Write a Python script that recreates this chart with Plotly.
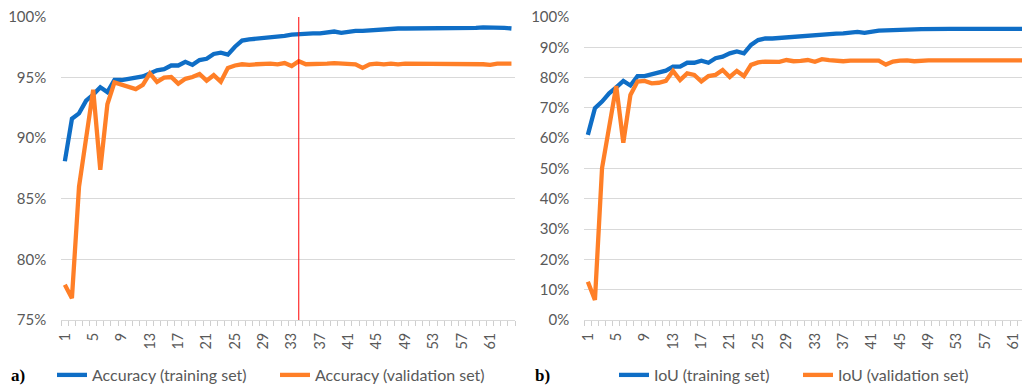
import plotly.graph_objects as go

epochs = list(range(1, 65))
tick_vals = list(range(1, 65, 4))
tick_text = [str(v) for v in tick_vals]

acc_train = [88.1, 91.6, 92.05, 93.1, 93.6, 94.2, 93.8, 94.8, 94.8, 94.9,
             95.0, 95.1, 95.35, 95.6, 95.7, 96.0, 96.0, 96.3, 96.05, 96.45,
             96.55, 96.95, 97.05, 96.9, 97.55, 98.05, 98.15, 98.2, 98.25, 98.3,
             98.35, 98.45, 98.55, 98.6, 98.6, 98.65, 98.65, 98.7, 98.8, 98.7,
             98.8, 98.85, 98.85, 98.9, 98.95, 99.0, 99.05, 99.05, 99.05, 99.05,
             99.05, 99.05, 99.05, 99.05, 99.05, 99.05, 99.05, 99.05, 99.1, 99.15,
             99.15, 99.15, 99.1, 99.05]
acc_val = [77.9, 76.8, 86.0, 90.0, 94.0, 87.4, 92.8, 94.6, 94.4, 94.2,
           94.05, 94.4, 95.35, 94.65, 95.0, 95.05, 94.5, 94.9, 95.05, 95.3,
           94.75, 95.2, 94.65, 95.8, 96.0, 96.1, 96.05, 96.1, 96.15, 96.15,
           96.1, 96.2, 95.95, 96.35, 96.1, 96.1, 96.15, 96.15, 96.2, 96.15,
           96.15, 96.1, 95.8, 96.1, 96.15, 96.1, 96.15, 96.1, 96.15, 96.15,
           96.15, 96.1, 96.15, 96.15, 96.15, 96.15, 96.15, 96.15, 96.15, 96.1,
           96.05, 96.15, 96.15, 96.15]
iou_train = [61.1, 69.9, 72.1, 74.8, 76.8, 78.9, 77.4, 80.5, 80.5, 81.2,
             81.6, 82.3, 83.6, 83.6, 84.9, 84.9, 85.6, 84.9, 86.4, 86.9,
             88.0, 88.6, 88.0, 90.8, 92.4, 92.9, 92.9, 93.1, 93.3, 93.6,
             93.8, 93.9, 94.1, 94.2, 94.4, 94.5, 94.6, 94.8, 95.1, 94.8,
             95.2, 95.5, 95.6, 95.6, 95.7, 95.8, 95.9, 96.0, 96.1, 96.1,
             96.1, 96.1, 96.1, 96.1, 96.1, 96.1, 96.1, 96.1, 96.1, 96.1,
             96.1, 96.1, 96.1, 96.1]
iou_val = [12.6, 6.6, 50.1, 63.5, 77.2, 58.5, 74.3, 78.7, 78.9, 78.1,
           78.3, 78.9, 82.2, 79.2, 81.4, 80.9, 78.7, 80.5, 80.9, 82.5,
           80.2, 82.2, 80.5, 84.2, 85.0, 85.3, 85.2, 85.2, 85.8, 85.4,
           85.5, 85.8, 85.2, 86.1, 85.8, 85.5, 85.4, 85.6, 85.6, 85.7,
           85.7, 85.6, 84.3, 85.3, 85.6, 85.7, 85.4, 85.7, 85.7, 85.7,
           85.7, 85.4, 85.7, 85.7, 85.7, 85.7, 85.7, 85.7, 85.7, 85.7,
           85.4, 85.7, 85.7, 85.7]
marker_epoch = 34

BLUE = "#0F6EC6"
ORANGE = "#FF7F27"
GRID = "#d9d9d9"
TXT = "#595959"
FONT = "Lato"

# the page body adds an 8px margin; size the figure so it ends at the window edge
OFF = 8
W, H = 1030 - OFF, 387 - OFF
fig = go.Figure()

series = [
    (acc_train, "Accuracy (training set)", BLUE, "x", "y", "legend2"),
    (acc_val, "Accuracy (validation set)", ORANGE, "x", "y", "legend3"),
    (iou_train, "IoU (training set)", BLUE, "x2", "y2", "legend4"),
    (iou_val, "IoU (validation set)", ORANGE, "x2", "y2", "legend5"),
]
for vals, name, color, xa, ya, lg in series:
    fig.add_trace(go.Scatter(x=epochs, y=vals, mode="lines", name=name,
                             line=dict(color=color, width=4.3), xaxis=xa, yaxis=ya, legend=lg))


def px(v):
    return (v - OFF) / W


def py(v):
    return (H - (v - OFF)) / H


xcommon = dict(tickmode="array", tickvals=tick_vals, ticktext=tick_text, tickangle=-90,
               ticks="outside", ticklen=6, tickcolor="rgba(0,0,0,0)", automargin=False,
               ticklabeloverflow="allow",
               showgrid=False, zeroline=False, showline=True, linecolor=GRID, linewidth=1,
               tickfont=dict(family=FONT, size=14.5, color=TXT),
               minor=dict(ticks="outside", ticklen=5, tickcolor="#cfcfcf", tickmode="linear",
                          tick0=0.5, dtick=1, showgrid=False))
ycommon = dict(showgrid=True, gridcolor=GRID, gridwidth=1, zeroline=False, showline=False,
               ticksuffix="%", ticks="outside", ticklen=11, tickcolor="rgba(0,0,0,0)",
               ticklabeloverflow="allow",
               automargin=False, tickfont=dict(family=FONT, size=15, color=TXT))

legend_style = dict(orientation="h", xanchor="left", yanchor="middle", y=py(375),
                    bgcolor="rgba(0,0,0,0)", font=dict(family=FONT, size=16, color=TXT))

fig.update_layout(
    width=W, height=H, margin=dict(l=0, r=0, t=0, b=0, autoexpand=False),
    paper_bgcolor="white", plot_bgcolor="white",
    xaxis=dict(domain=[px(61.3), px(515)], range=[0.5, 64.5], anchor="y", **xcommon),
    yaxis=dict(domain=[py(320), py(17)], range=[75, 100], dtick=5, anchor="x", **ycommon),
    xaxis2=dict(domain=[px(584.3), 1.0], range=[0.5, 0.5 + (1030 - 584.3) / 7.095], anchor="y2", **xcommon),
    yaxis2=dict(domain=[py(320), py(17)], range=[0, 100], dtick=10, anchor="x2", **ycommon),
    legend2=dict(x=px(52), **legend_style),
    legend3=dict(x=px(275), **legend_style),
    legend4=dict(x=px(614), **legend_style),
    legend5=dict(x=px(798), **legend_style),
    shapes=[dict(type="line", xref="x", yref="y domain", x0=marker_epoch, x1=marker_epoch,
                 y0=0, y1=1, line=dict(color="#FF0000", width=1))],
    annotations=[
        dict(text="<b>a)</b>", xref="paper", yref="paper", x=px(9), y=py(375), xanchor="left",
             yanchor="middle", showarrow=False, font=dict(family="Liberation Serif", size=17, color="black")),
        dict(text="<b>b)</b>", xref="paper", yref="paper", x=px(533), y=py(375), xanchor="left",
             yanchor="middle", showarrow=False, font=dict(family="Liberation Serif", size=17, color="black")),
    ],
)

fig.write_html("out.html")
